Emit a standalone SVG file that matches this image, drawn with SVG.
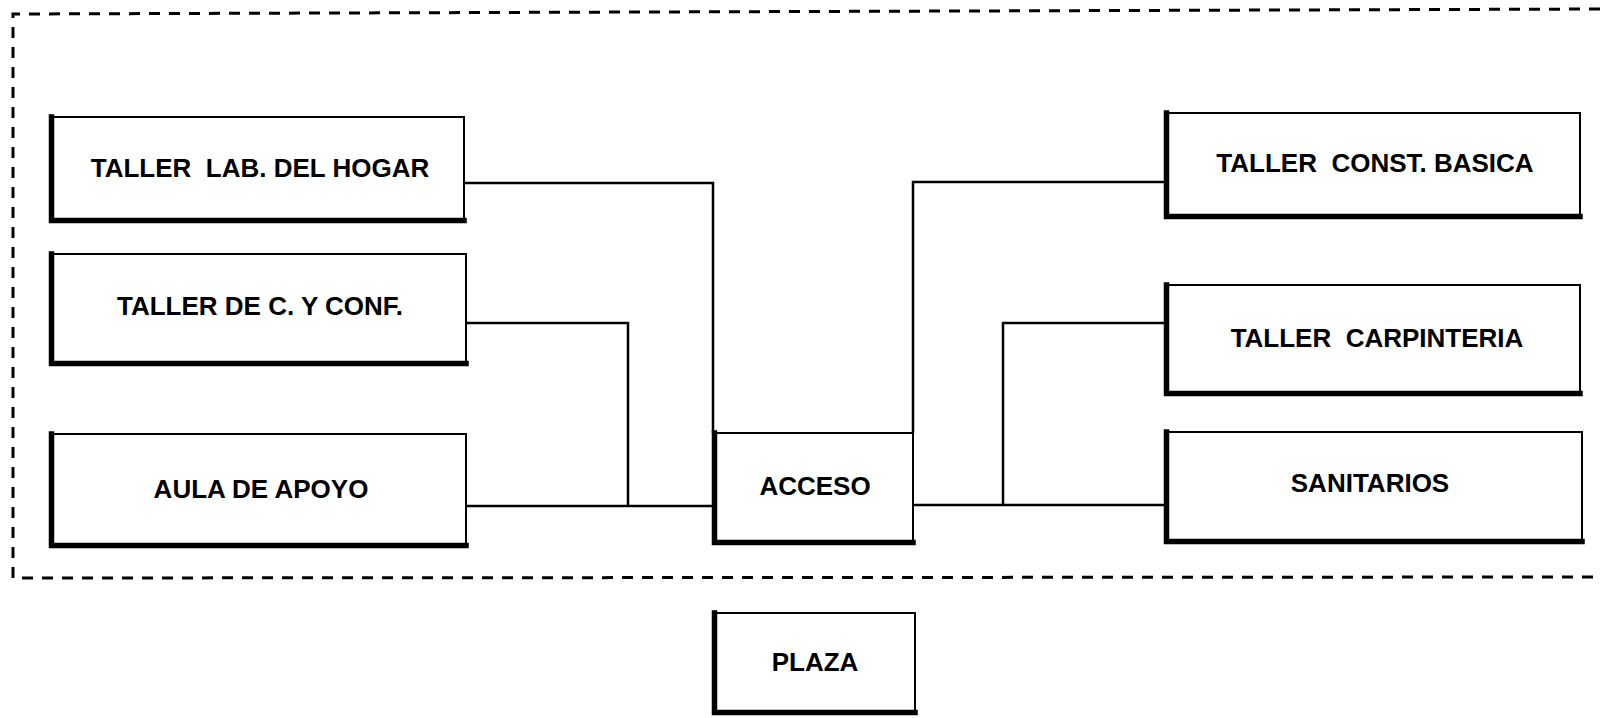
<svg xmlns="http://www.w3.org/2000/svg" width="1600" height="718" viewBox="0 0 1600 718">
<style>
.bg{fill:#fff}
.box{fill:#fff;stroke:#000;stroke-width:2}
.sh{fill:none;stroke:#000;stroke-width:5.5;stroke-linecap:square}
.lbl{font-family:"Liberation Sans",Arial,sans-serif;font-weight:bold;font-size:26px;fill:#000;text-anchor:middle;white-space:pre}
.con{fill:none;stroke:#000;stroke-width:2.5}
.zone{fill:none;stroke:#000;stroke-width:3;stroke-dasharray:11 9}
</style>
<rect class="bg" x="0" y="0" width="1600" height="718"/>
<path id="zone" class="zone" d="M1600 9 L13 14 L13 578 L1600 577"/>
<g id="connectors">
<path class="con" d="M464 183 H713 V433"/>
<path class="con" d="M466 323 H628 V506"/>
<path class="con" d="M466 506 H713"/>
<path class="con" d="M1165 182 H913 V433"/>
<path class="con" d="M1165 323 H1003 V505"/>
<path class="con" d="M913 505 H1165"/>
</g>
<g id="n-hogar">
<rect class="box" x="50" y="117" width="414" height="105"/>
<path class="sh" d="M51.5 117 V220.5 H464"/>
<text class="lbl" x="260" y="177">TALLER  LAB. DEL HOGAR</text>
</g>
<g id="n-confeccion">
<rect class="box" x="50" y="254" width="416" height="111"/>
<path class="sh" d="M51.5 254 V363.5 H466"/>
<text class="lbl" x="260" y="315">TALLER DE C. Y CONF.</text>
</g>
<g id="n-aula">
<rect class="box" x="50" y="434" width="416" height="113"/>
<path class="sh" d="M51.5 434 V545.5 H466"/>
<text class="lbl" x="261" y="498">AULA DE APOYO</text>
</g>
<g id="n-acceso">
<rect class="box" x="713" y="433" width="200" height="111"/>
<path class="sh" d="M714.5 433 V542.5 H913"/>
<text class="lbl" x="815" y="495">ACCESO</text>
</g>
<g id="n-plaza">
<rect class="box" x="713" y="613" width="202" height="101"/>
<path class="sh" d="M714.5 613 V712.5 H915"/>
<text class="lbl" x="815" y="671">PLAZA</text>
</g>
<g id="n-construccion">
<rect class="box" x="1165" y="113" width="415" height="105"/>
<path class="sh" d="M1166.5 113 V216.5 H1580"/>
<text class="lbl" x="1375" y="172">TALLER  CONST. BASICA</text>
</g>
<g id="n-carpinteria">
<rect class="box" x="1165" y="285" width="415" height="110"/>
<path class="sh" d="M1166.5 285 V393.5 H1580"/>
<text class="lbl" x="1377" y="347">TALLER  CARPINTERIA</text>
</g>
<g id="n-sanitarios">
<rect class="box" x="1165" y="432" width="417" height="111"/>
<path class="sh" d="M1166.5 432 V541.5 H1582"/>
<text class="lbl" x="1370" y="492">SANITARIOS</text>
</g>
</svg>
